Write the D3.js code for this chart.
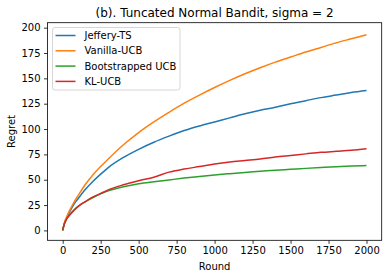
<!DOCTYPE html>
<html>
<head>
<meta charset="utf-8">
<script src="https://cdn.jsdelivr.net/npm/d3@7"></script>
<style>
  body { margin: 0; background: #fff; }
  svg { font-family: "DejaVu Sans", sans-serif; }
</style>
</head>
<body>
<svg id="chart" width="392" height="278"></svg>
<script>
// data
var rounds = [0, 10, 25, 50, 75, 100, 150, 200, 250, 300, 400, 500, 600, 700, 800, 900, 1000,
              1100, 1200, 1300, 1400, 1500, 1600, 1700, 1800, 1900, 2000];
var jefferyTS = [0, 6, 12, 19.5, 26, 31, 40.5, 48.5, 55.5, 62, 72, 80, 87, 93, 98.5, 103, 107,
                 111, 115, 118.5, 121.5, 125, 128, 131, 133.5, 136, 138];
var vanillaUCB = [0, 7, 13, 21, 28, 34, 45.5, 55, 63, 70.5, 84.5, 96.5, 107, 116.5, 125.5, 133.5, 141,
                  148, 154.5, 160.5, 166, 171, 176, 180.5, 185, 189, 193];
var bootUCB = [0, 6, 11, 16, 20, 23.5, 28.5, 32.5, 36, 39, 43, 46, 48, 49.8, 51.6, 53.2, 54.7,
               56, 57.2, 58.3, 59.4, 60.3, 61.2, 62, 62.8, 63.5, 64];
var klUCB = [0, 6, 11, 16, 20, 23.5, 28.5, 33, 36.5, 40, 45, 49, 52.5, 57.5, 60.5, 63, 65.5,
             67.5, 69, 70.5, 72.5, 74, 75.5, 77, 78, 79, 80.5];
var seriesNames = ['Jeffery-TS', 'Vanilla-UCB', 'Bootstrapped UCB', 'KL-UCB'];
var seriesColors = ['#1f77b4', '#ff7f0e', '#2ca02c', '#d62728'];
var xTicks = [0, 250, 500, 750, 1000, 1250, 1500, 1750, 2000];
var yTicks = [0, 25, 50, 75, 100, 125, 150, 175, 200];

var svg = d3.select('#chart');
var plotLeft = 47.5, plotRight = 381.7, plotTop = 22.7, plotBottom = 240.3;

var x = d3.scaleLinear().domain([-100, 2100]).range([plotLeft, plotRight]);
var y = d3.scaleLinear().domain([-9.75, 204.9]).range([plotBottom, plotTop]);

var allSeries = [jefferyTS, vanillaUCB, bootUCB, klUCB];

// lines
var line = d3.line()
    .x((d, i) => x(rounds[i]))
    .y(d => y(d))
    .curve(d3.curveMonotoneX);

svg.selectAll('.series')
    .data(allSeries)
    .join('path')
    .classed('series', true)
    .attr('fill', 'none')
    .attr('stroke', (d, i) => seriesColors[i])
    .attr('stroke-width', 1.5)
    .attr('d', line);

// axes
var xAxis = svg.append('g')
    .attr('transform', `translate(0,${plotBottom})`)
    .call(d3.axisBottom(x).tickValues(xTicks).tickFormat(d3.format('d'))
        .tickSizeInner(3.5).tickSizeOuter(0).tickPadding(3.5));
var yAxis = svg.append('g')
    .attr('transform', `translate(${plotLeft},0)`)
    .call(d3.axisLeft(y).tickValues(yTicks).tickFormat(d3.format('d'))
        .tickSizeInner(3.5).tickSizeOuter(0).tickPadding(3.5));

[xAxis, yAxis].forEach(g => {
    g.select('.domain').remove();
    g.selectAll('line').attr('stroke', '#000').attr('stroke-width', 0.8);
    g.selectAll('text').attr('font-size', 10).attr('fill', '#000')
        .attr('font-family', '"DejaVu Sans", sans-serif');
});

// frame
svg.append('rect')
    .attr('x', plotLeft).attr('y', plotTop)
    .attr('width', plotRight - plotLeft).attr('height', plotBottom - plotTop)
    .attr('fill', 'none').attr('stroke', '#000').attr('stroke-width', 0.8);

// titles
svg.append('text')
    .attr('x', (plotLeft + plotRight) / 2).attr('y', 17)
    .attr('text-anchor', 'middle').attr('font-size', 12)
    .text('(b). Tuncated Normal Bandit, sigma = 2');
svg.append('text')
    .attr('x', (plotLeft + plotRight) / 2).attr('y', 270)
    .attr('text-anchor', 'middle').attr('font-size', 10)
    .text('Round');
svg.append('text')
    .attr('transform', `translate(15,${(plotTop + plotBottom) / 2}) rotate(-90)`)
    .attr('text-anchor', 'middle').attr('font-size', 10)
    .text('Regret');

// legend
var legend = svg.append('g');
legend.append('rect')
    .attr('x', 52.5).attr('y', 27.5).attr('width', 127.5).attr('height', 62.5)
    .attr('rx', 2.5).attr('fill', '#fff').attr('fill-opacity', 0.8)
    .attr('stroke', '#ccc').attr('stroke-width', 0.8);
var items = legend.selectAll('.item')
    .data(seriesNames)
    .join('g')
    .classed('item', true)
    .attr('transform', (d, i) => `translate(0,${35.5 + i * 15.3})`);
items.append('line')
    .attr('x1', 55.5).attr('x2', 75.5)
    .attr('stroke', (d, i) => seriesColors[i]).attr('stroke-width', 1.5);
items.append('text')
    .attr('x', 84.5).attr('y', 3.6)
    .attr('font-size', 10)
    .text(d => d);
</script>
</body>
</html>
